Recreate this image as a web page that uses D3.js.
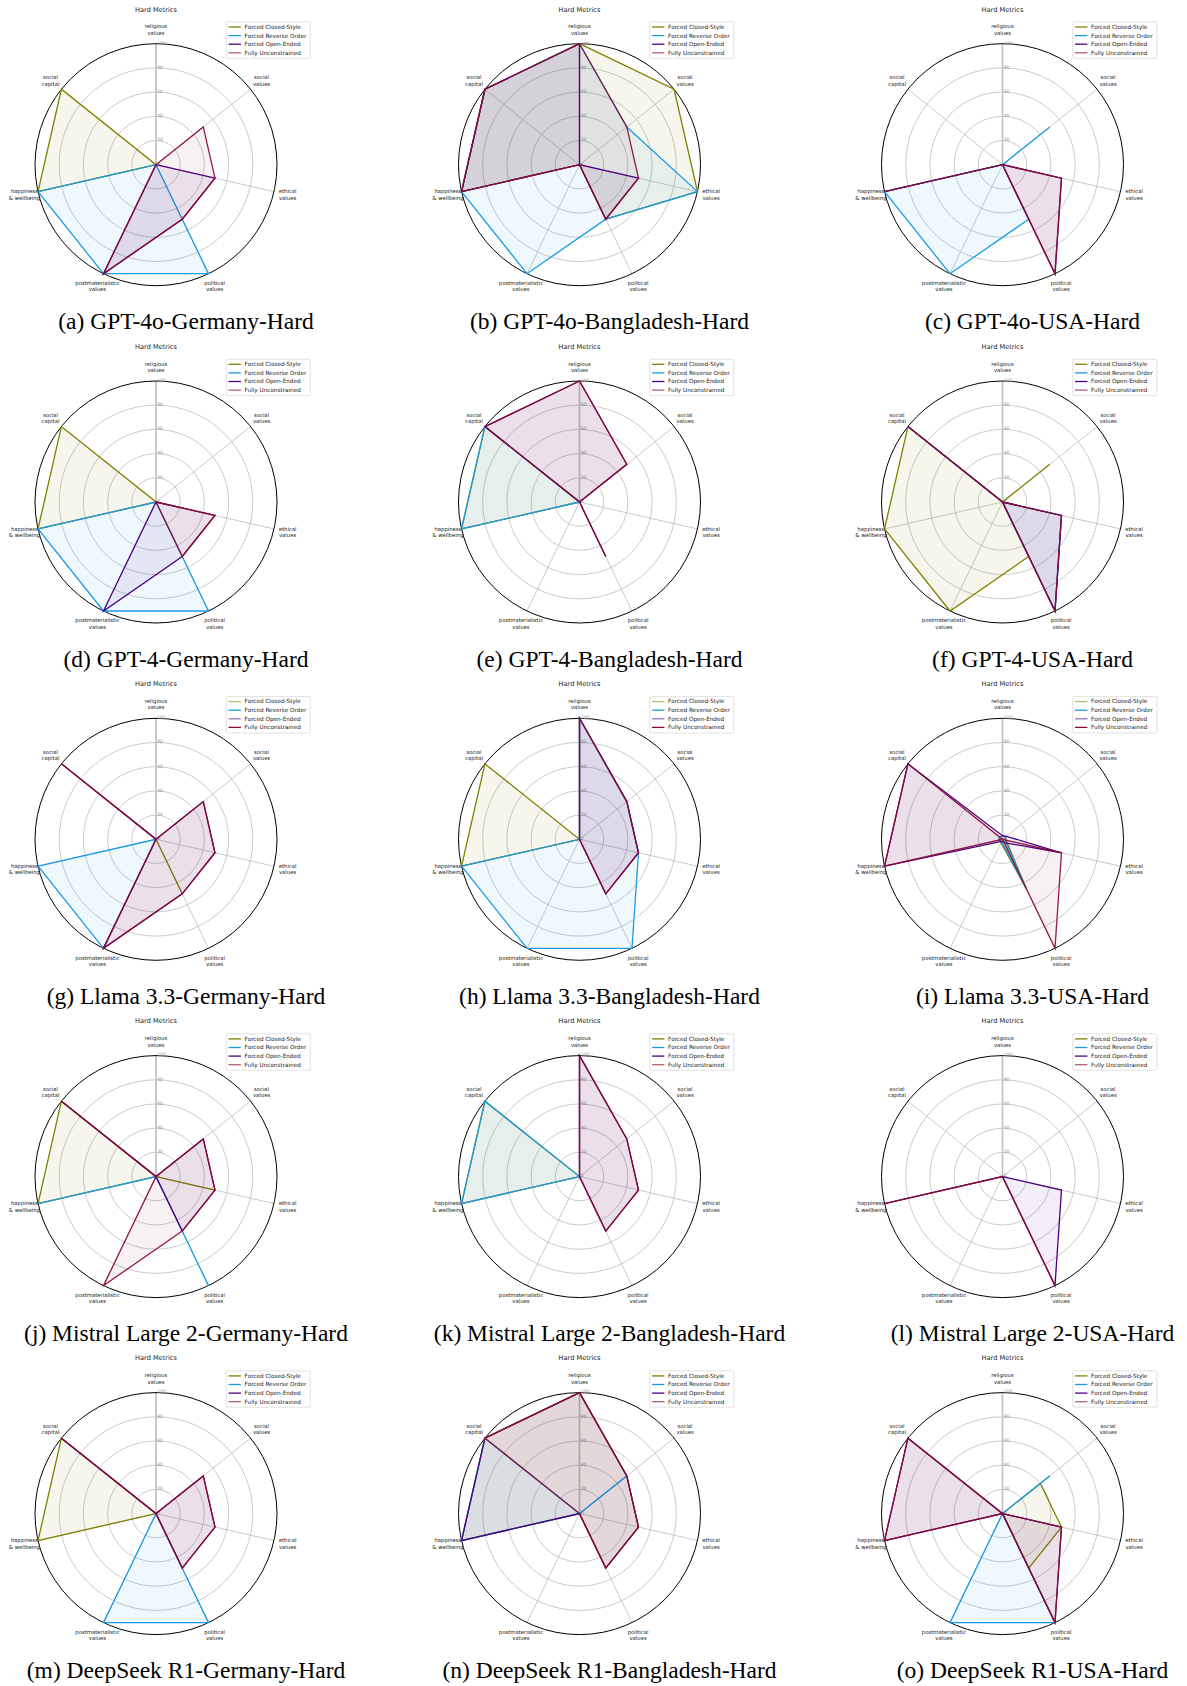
<!DOCTYPE html>
<html>
<head>
<meta charset="utf-8">
<script src="https://cdn.jsdelivr.net/npm/d3@7"></script>
<style>
  html, body { margin: 0; padding: 0; background: #fff; }
  svg { display: block; }
</style>
</head>
<body>
<svg id="chart" width="1187" height="1686"></svg>
<script>
// ---------------- DATA ----------------
const axisLabels = [
  ["religious", "values"],
  ["social", "values"],
  ["ethical", "values"],
  ["political", "values"],
  ["postmaterialistic", "values"],
  ["happiness", "& wellbeing"],
  ["social", "capital"]
];
const seriesNames = ["Forced Closed-Style", "Forced Reverse Order", "Forced Open-Ended", "Fully Unconstrained"];
const radialTicks = [0, 20, 40, 60, 80, 100];
const chartTitle = "Hard Metrics";
const captions = [
  "(a) GPT-4o-Germany-Hard", "(b) GPT-4o-Bangladesh-Hard", "(c) GPT-4o-USA-Hard",
  "(d) GPT-4-Germany-Hard", "(e) GPT-4-Bangladesh-Hard", "(f) GPT-4-USA-Hard",
  "(g) Llama 3.3-Germany-Hard", "(h) Llama 3.3-Bangladesh-Hard", "(i) Llama 3.3-USA-Hard",
  "(j) Mistral Large 2-Germany-Hard", "(k) Mistral Large 2-Bangladesh-Hard", "(l) Mistral Large 2-USA-Hard",
  "(m) DeepSeek R1-Germany-Hard", "(n) DeepSeek R1-Bangladesh-Hard", "(o) DeepSeek R1-USA-Hard"
];
// values per panel, axis order: religious, social, ethical, political, postmaterialistic, happiness, social capital
const closedStyle = [
  [0, 0, 0, 0, 0, 100, 100],
  [100, 100, 100, 50, 0, 100, 100],
  [0, 0, 0, 0, 0, 0, 0],
  [0, 0, 0, 0, 0, 100, 100],
  [0, 0, 0, 0, 0, 100, 100],
  [0, 50, 0, 50, 100, 100, 100],
  [0, 0, 0, 50, 0, 0, 0],
  [0, 0, 0, 0, 0, 100, 100],
  [3, 3, 3, 45, 3, 3, 3],
  [0, 0, 50, 0, 0, 100, 100],
  [0, 0, 0, 0, 0, 100, 100],
  [0, 0, 0, 0, 0, 0, 0],
  [0, 0, 0, 0, 0, 100, 100],
  [100, 50, 50, 50, 0, 100, 100],
  [0, 40, 50, 50, 0, 0, 0]
];
const reverseOrder = [
  [0, 0, 0, 100, 100, 100, 0],
  [100, 50, 100, 50, 100, 100, 100],
  [0, 50, 0, 50, 100, 100, 0],
  [0, 0, 0, 100, 100, 100, 0],
  [0, 0, 0, 0, 0, 100, 100],
  [0, 0, 50, 100, 0, 0, 100],
  [0, 0, 0, 0, 100, 100, 0],
  [100, 50, 50, 100, 100, 100, 0],
  [3, 3, 2, 45, 2, 3, 3],
  [0, 0, 0, 100, 0, 100, 0],
  [0, 0, 0, 0, 0, 100, 100],
  [0, 0, 0, 0, 0, 0, 0],
  [0, 0, 0, 100, 100, 0, 0],
  [0, 50, 0, 0, 0, 100, 100],
  [0, 50, 0, 100, 100, 0, 0]
];
const openEnded = [
  [0, 0, 50, 50, 100, 0, 0],
  [100, 0, 50, 50, 0, 100, 100],
  [0, 0, 50, 100, 0, 100, 0],
  [0, 0, 50, 50, 100, 0, 0],
  [100, 50, 0, 50, 0, 0, 100],
  [0, 0, 50, 100, 0, 0, 100],
  [0, 50, 50, 50, 100, 0, 100],
  [100, 50, 50, 50, 0, 0, 0],
  [3, 4, 50, 3, 2, 100, 100],
  [0, 50, 50, 50, 0, 0, 100],
  [100, 50, 50, 50, 0, 0, 0],
  [0, 0, 50, 100, 0, 100, 0],
  [0, 50, 50, 50, 0, 0, 100],
  [100, 50, 50, 50, 0, 100, 100],
  [0, 0, 50, 100, 0, 100, 100]
];
const unconstrained = [
  [0, 50, 50, 50, 100, 0, 0],
  [100, 50, 50, 50, 0, 100, 100],
  [0, 0, 50, 100, 0, 100, 0],
  [0, 0, 50, 50, 0, 0, 0],
  [100, 50, 0, 50, 0, 0, 100],
  [0, 0, 50, 100, 0, 0, 100],
  [0, 50, 50, 50, 100, 0, 100],
  [100, 50, 50, 50, 0, 0, 0],
  [0, 0, 50, 100, 0, 100, 100],
  [0, 50, 50, 50, 100, 0, 100],
  [100, 50, 50, 50, 0, 0, 0],
  [0, 0, 0, 100, 0, 100, 0],
  [0, 50, 50, 50, 0, 0, 100],
  [100, 50, 50, 50, 0, 0, 100],
  [0, 0, 50, 100, 0, 100, 100]
];

// ---------------- STYLE / LAYOUT ----------------
const seriesData = [closedStyle, reverseOrder, openEnded, unconstrained];
const seriesColors = ["#808000", "#1a9be6", "#4b0082", "#8b0a32"];
const fillOpacity = [0.075, 0.07, 0.07, 0.06];
const colX = [156, 579.5, 1002.5];
const rowY = [164.7, 502, 839.3, 1176.6, 1513.6];
const R = 121;
const labelR = 135;

const svg = d3.select("#chart");
const r = d3.scaleLinear().domain([0, 100]).range([0, R]);
const angle = d3.scaleLinear().domain([0, axisLabels.length]).range([0, 2 * Math.PI]);

const radialLine = d3.lineRadial()
  .angle((d, i) => angle(i))
  .radius(d => r(d))
  .curve(d3.curveLinearClosed);

captions.forEach((cap, p) => {
  const cx = colX[p % 3];
  const cy = rowY[Math.floor(p / 3)];
  const row = Math.floor(p / 3);
  const g = svg.append("g").attr("transform", `translate(${cx},${cy})`);

  // grid circles
  g.selectAll("circle.grid")
    .data(radialTicks.filter(t => t > 0 && t < 100))
    .join("circle")
    .attr("r", d => r(d))
    .attr("fill", "none")
    .attr("stroke", "#bdbdbd")
    .attr("stroke-width", 0.8);

  // radial tick axis (religious direction), slightly thicker
  g.append("line")
    .attr("x1", 0).attr("y1", 0).attr("x2", 0).attr("y2", -r(100))
    .attr("stroke", "#cccccc").attr("stroke-width", 1.8);

  // spokes
  g.selectAll("line.spoke")
    .data(axisLabels)
    .join("line")
    .attr("x1", 0).attr("y1", 0)
    .attr("x2", (d, i) => r(100) * Math.sin(angle(i)))
    .attr("y2", (d, i) => -r(100) * Math.cos(angle(i)))
    .attr("stroke", "#bdbdbd").attr("stroke-width", 0.8);

  // outer spine
  g.append("circle").attr("r", r(100)).attr("fill", "none")
    .attr("stroke", "#000").attr("stroke-width", 1);

  // radial tick labels
  g.selectAll("text.rt")
    .data(radialTicks)
    .join("text")
    .attr("x", 1.2)
    .attr("y", d => -r(d) + 0.8)
    .attr("font-family", "DejaVu Sans")
    .attr("font-size", 4.6)
    .attr("fill", "#999999")
    .text(d => d);

  // series
  seriesData.forEach((arr, s) => {
    const vals = arr[p];
    g.append("path")
      .attr("d", radialLine(vals))
      .attr("fill", seriesColors[s])
      .attr("fill-opacity", fillOpacity[s])
      .attr("stroke", "none");
    g.append("path")
      .attr("d", radialLine(vals))
      .attr("fill", "none")
      .attr("stroke", seriesColors[s])
      .attr("stroke-opacity", s === 3 ? 0.92 : 1)
      .attr("stroke-width", 1.3)
      .attr("stroke-linejoin", "miter");
  });

  // axis labels
  axisLabels.forEach((lbl, i) => {
    const a = angle(i);
    const x = labelR * Math.sin(a);
    const y = -labelR * Math.cos(a);
    const t = g.append("text")
      .attr("text-anchor", "middle")
      .attr("font-family", "DejaVu Sans")
      .attr("font-size", 5.3)
      .attr("fill", "#1a1a1a");
    lbl.forEach((line, k) => {
      t.append("tspan")
        .attr("x", x)
        .attr("y", y + (k - 0.5) * 6.3 + 1.9)
        .text(line);
    });
  });

  // title
  g.append("text")
    .attr("x", 0).attr("y", -153.2)
    .attr("text-anchor", "middle")
    .attr("font-family", "DejaVu Sans")
    .attr("font-size", 6.6)
    .attr("fill", "#1a1a1a")
    .text(chartTitle);

  // legend
  const lg = g.append("g").attr("transform", "translate(70.3,-142.7)");
  lg.append("rect")
    .attr("width", 84).attr("height", 36.3)
    .attr("rx", 1.2)
    .attr("fill", "#fff").attr("fill-opacity", 0.85)
    .attr("stroke", "#d6d6d6").attr("stroke-width", 0.7);
  seriesNames.forEach((name, s) => {
    const yy = 5 + s * 8.6;
    let op = 1;
    if (row === 2) { op = (s === 0 || s === 2) ? 0.55 : 1; }
    else if (s === 3) { op = 0.65; }
    lg.append("line")
      .attr("x1", 2.2).attr("x2", 14.6).attr("y1", yy).attr("y2", yy)
      .attr("stroke", seriesColors[s]).attr("stroke-opacity", op)
      .attr("stroke-width", 1.3);
    lg.append("text")
      .attr("x", 18.3).attr("y", yy + 1.9)
      .attr("font-family", "DejaVu Sans")
      .attr("font-size", 5.7)
      .attr("fill", "#1a1a1a")
      .text(name);
  });

  // caption
  svg.append("text")
    .attr("x", cx + 30)
    .attr("y", cy + 164.5)
    .attr("text-anchor", "middle")
    .attr("font-family", "Liberation Serif, Times New Roman, serif")
    .attr("font-size", 23.5)
    .attr("fill", "#000")
    .text(cap);
});
</script>
</body>
</html>
